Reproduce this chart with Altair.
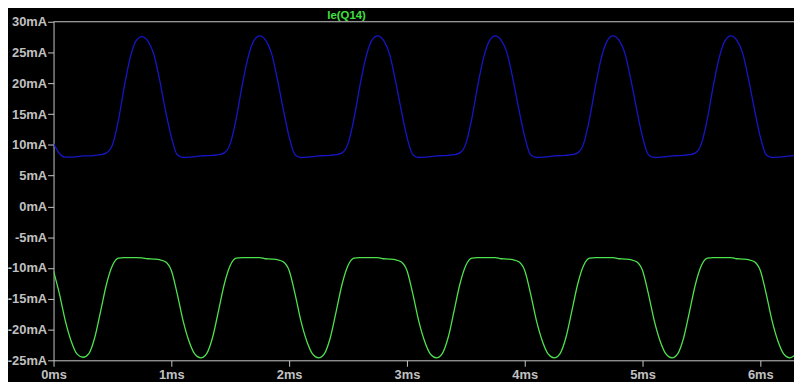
import altair as alt
import pandas as pd

# sample times (ms)
time_ms = [
    0.00, 0.05, 0.10, 0.15, 0.20, 0.25, 0.30, 0.35, 0.40, 0.45, 0.50, 0.55, 0.60, 0.65, 0.70, 0.75, 0.80, 0.85, 0.90, 0.95,
    1.00, 1.05, 1.10, 1.15, 1.20, 1.25, 1.30, 1.35, 1.40, 1.45, 1.50, 1.55, 1.60, 1.65, 1.70, 1.75, 1.80, 1.85, 1.90, 1.95,
    2.00, 2.05, 2.10, 2.15, 2.20, 2.25, 2.30, 2.35, 2.40, 2.45, 2.50, 2.55, 2.60, 2.65, 2.70, 2.75, 2.80, 2.85, 2.90, 2.95,
    3.00, 3.05, 3.10, 3.15, 3.20, 3.25, 3.30, 3.35, 3.40, 3.45, 3.50, 3.55, 3.60, 3.65, 3.70, 3.75, 3.80, 3.85, 3.90, 3.95,
    4.00, 4.05, 4.10, 4.15, 4.20, 4.25, 4.30, 4.35, 4.40, 4.45, 4.50, 4.55, 4.60, 4.65, 4.70, 4.75, 4.80, 4.85, 4.90, 4.95,
    5.00, 5.05, 5.10, 5.15, 5.20, 5.25, 5.30, 5.35, 5.40, 5.45, 5.50, 5.55, 5.60, 5.65, 5.70, 5.75, 5.80, 5.85, 5.90, 5.95,
    6.00, 6.05, 6.10, 6.15, 6.20, 6.25, 6.29,
]

# blue trace (mA)
blue_mA = [
    10.2, 8.6, 8.0, 8.0, 8.1, 8.2, 8.2, 8.3, 8.4, 8.7, 10.0, 13.9, 19.4, 24.1, 26.9, 27.6, 26.9, 24.8, 20.6, 15.6,
    11.3, 8.4, 7.95, 8.0, 8.1, 8.2, 8.25, 8.3, 8.4, 8.7, 10.2, 14.2, 19.5, 24.1, 26.9, 27.7, 27.0, 24.9, 20.7, 15.8,
    11.3, 8.4, 7.95, 8.0, 8.1, 8.2, 8.25, 8.3, 8.4, 8.7, 10.2, 14.2, 19.5, 24.1, 26.9, 27.7, 27.0, 24.9, 20.7, 15.8,
    11.3, 8.4, 7.95, 8.0, 8.1, 8.2, 8.25, 8.3, 8.4, 8.7, 10.2, 14.2, 19.5, 24.1, 26.9, 27.7, 27.0, 24.9, 20.7, 15.8,
    11.3, 8.4, 7.95, 8.0, 8.1, 8.2, 8.25, 8.3, 8.4, 8.7, 10.2, 14.2, 19.5, 24.1, 26.9, 27.7, 27.0, 24.9, 20.7, 15.8,
    11.3, 8.4, 7.95, 8.0, 8.1, 8.2, 8.25, 8.3, 8.4, 8.7, 10.2, 14.2, 19.5, 24.1, 26.9, 27.7, 27.0, 24.9, 20.7, 15.8,
    11.3, 8.4, 7.95, 8.0, 8.1, 8.2, 8.25,
]

# green trace Ie(Q14) (mA)
green_mA = [
    -10.5, -14.2, -18.6, -21.9, -24.0, -24.5, -23.9, -21.3, -17.0, -12.6, -9.6, -8.4, -8.3, -8.3, -8.3, -8.35, -8.5, -8.55, -8.65, -9.0,
    -10.4, -14.2, -18.6, -21.9, -24.0, -24.6, -23.9, -21.3, -17.0, -12.6, -9.6, -8.4, -8.3, -8.3, -8.3, -8.3, -8.5, -8.55, -8.65, -9.0,
    -10.4, -14.2, -18.6, -21.9, -24.0, -24.6, -23.9, -21.3, -17.0, -12.6, -9.6, -8.4, -8.3, -8.3, -8.3, -8.3, -8.5, -8.55, -8.65, -9.0,
    -10.4, -14.2, -18.6, -21.9, -24.0, -24.6, -23.9, -21.3, -17.0, -12.6, -9.6, -8.4, -8.3, -8.3, -8.3, -8.3, -8.5, -8.55, -8.65, -9.0,
    -10.4, -14.2, -18.6, -21.9, -24.0, -24.6, -23.9, -21.3, -17.0, -12.6, -9.6, -8.4, -8.3, -8.3, -8.3, -8.3, -8.5, -8.55, -8.65, -9.0,
    -10.4, -14.2, -18.6, -21.9, -24.0, -24.6, -23.9, -21.3, -17.0, -12.6, -9.6, -8.4, -8.3, -8.3, -8.3, -8.3, -8.5, -8.55, -8.65, -9.0,
    -10.4, -14.2, -18.6, -21.9, -24.0, -24.6, -24.2,
]

series_names = ["blue", "Ie(Q14)"]
series_colors = ["#1616c8", "#4ee24e"]
y_ticks = [-25, -20, -15, -10, -5, 0, 5, 10, 15, 20, 25, 30]
x_ticks = [0, 1, 2, 3, 4, 5, 6]
title_label = ["Ie(Q14)"]

W, H = 748, 342
AXIS_COLOR = "#c8c8c8"
LABEL_COLOR = "#c0c0c0"
FONT = "Liberation Sans"

rows = []
for t, b, g in zip(time_ms, blue_mA, green_mA):
    rows.append({"t": t, "v": b, "s": series_names[0]})
    rows.append({"t": t, "v": g, "s": series_names[1]})
df = pd.DataFrame(rows)

x_enc = alt.X(
    "t:Q",
    title=None,
    scale=alt.Scale(domain=[0, 6.286], nice=False, zero=False),
    axis=alt.Axis(
        values=x_ticks, labelExpr="datum.value + 'ms'", grid=False,
        domainColor=AXIS_COLOR, tickColor=AXIS_COLOR, tickSize=6,
        labelColor=LABEL_COLOR, labelFont=FONT, labelFontSize=13, labelFontWeight="bold",
        labelPadding=2, labelFlush=False, labelOverlap=False,
    ),
)
y_enc = alt.Y(
    "v:Q",
    title=None,
    scale=alt.Scale(domain=[-25, 30], nice=False, zero=False),
    axis=alt.Axis(
        values=y_ticks, labelExpr="datum.value + 'mA'", grid=False,
        domainColor=AXIS_COLOR, tickColor=AXIS_COLOR, tickSize=6,
        labelColor=LABEL_COLOR, labelFont=FONT, labelFontSize=13, labelFontWeight="bold",
        labelPadding=1, labelFlush=False, labelOverlap=False,
    ),
)

lines = alt.Chart(df).mark_line(strokeWidth=1.3, interpolate="monotone", clip=True).encode(
    x=x_enc,
    y=y_enc,
    color=alt.Color("s:N", scale=alt.Scale(domain=series_names, range=series_colors), legend=None),
)

title_df = pd.DataFrame({"label": title_label})
title = alt.Chart(title_df).mark_text(
    color="#40e040", font=FONT, fontSize=11.5, fontWeight="bold", align="center", baseline="alphabetic"
).encode(text="label:N", x=alt.value(296), y=alt.value(-3))

top_line = alt.Chart(title_df).mark_rule(color=AXIS_COLOR, strokeWidth=1).encode(
    x=alt.value(0), x2=alt.value(W), y=alt.value(0)
)

chart = alt.layer(top_line, lines, title).properties(
    width=W,
    height=H,
    background="black",
    padding={"left": 46, "top": 12, "right": 0, "bottom": 20},
    autosize=alt.AutoSizeParams(type="none"),
).configure_view(stroke=None)

chart.save("out.html", embed_options={"renderer": "svg", "actions": False})
